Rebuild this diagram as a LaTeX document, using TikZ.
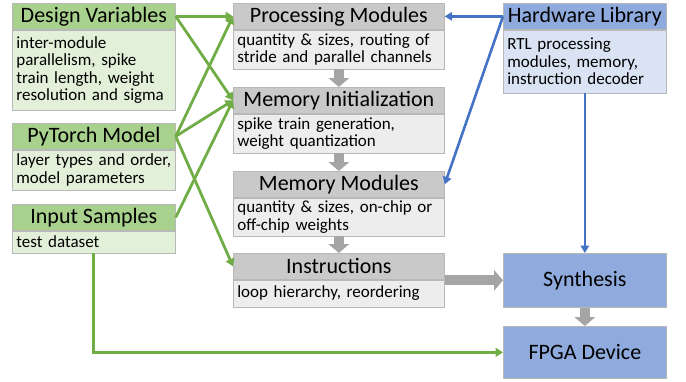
\documentclass[tikz,border=0pt]{standalone}
\usepackage{fontspec}
\setmainfont{Carlito}
\usetikzlibrary{arrows.meta,calc}

\definecolor{greenH}{HTML}{A9D18E}
\definecolor{greenB}{HTML}{E2F0D9}
\definecolor{grayH}{HTML}{C9C9C9}
\definecolor{grayB}{HTML}{EDEDED}
\definecolor{blueH}{HTML}{8FAADC}
\definecolor{blueB}{HTML}{DAE3F3}
\definecolor{edge}{HTML}{B8B8B8}
\definecolor{gline}{HTML}{70AD47}
\definecolor{bline}{HTML}{4472C4}
\definecolor{blkgray}{HTML}{A5A5A5}

\tikzset{
  hd/.style={draw=edge, line width=0.7pt, minimum height=26pt, inner sep=0pt,
    anchor=north west, font=\fontsize{22}{24}\selectfont},
  bd/.style={draw=edge, line width=0.7pt, inner xsep=4pt, inner ysep=0pt,
    anchor=north west, align=left, font=\fontsize{17}{17.5}\selectfont},
  solid box/.style={draw=edge, line width=0.7pt, fill=blueH, minimum width=163pt,
    anchor=north west, font=\fontsize{22}{24}\selectfont},
  garrow/.style={draw=gline, line width=2.8pt, -{Triangle[width=9pt,length=7.5pt]}},
  barrow/.style={draw=bline, line width=2.6pt, -{Triangle[width=8.5pt,length=7.5pt]}},
  blk/.style={draw=blkgray, line width=10pt,
    -{Triangle[width=21pt,length=9pt,line width=0pt]}},
}

\begin{document}
\begin{tikzpicture}[x=1pt,y=-1pt]
\useasboundingbox (0,0) rectangle (686,381);

% inputs (left column)
\node[hd, fill=greenH, minimum width=163pt] (dvh) at (12,3) {Design Variables};
\node[bd, fill=greenB, text width=155pt, minimum height=80pt] (dvb) at (dvh.south west)
  {inter-module\\parallelism, spike\\train length, weight\\resolution and sigma};

\node[hd, fill=greenH, minimum width=163pt] (pth) at (12,123) {PyTorch Model};
\node[bd, fill=greenB, text width=155pt, minimum height=40pt] (ptb) at (pth.south west)
  {layer types and order,\\model parameters};

\node[hd, fill=greenH, minimum width=163pt] (ish) at (12,204) {Input Samples};
\node[bd, fill=greenB, text width=155pt, minimum height=22pt] (isb) at (ish.south west)
  {test dataset};

% generation steps (middle column)
\node[hd, fill=grayH, minimum width=211pt] (pmh) at (233,3) {Processing Modules};
\node[bd, fill=grayB, text width=203pt, minimum height=39pt] (pmb) at (pmh.south west)
  {quantity \& sizes, routing of\\stride and parallel channels};

\node[hd, fill=grayH, minimum width=211pt] (mih) at (233,87) {Memory Initialization};
\node[bd, fill=grayB, text width=203pt, minimum height=39pt] (mib) at (mih.south west)
  {spike train generation,\\weight quantization};

\node[hd, fill=grayH, minimum width=211pt] (mmh) at (233,171) {Memory Modules};
\node[bd, fill=grayB, text width=203pt, minimum height=38pt] (mmb) at (mmh.south west)
  {quantity \& sizes, on-chip or\\off-chip weights};

\node[hd, fill=grayH, minimum width=211pt] (inh) at (233,253) {Instructions};
\node[bd, fill=grayB, text width=203pt, minimum height=27pt] (inb) at (inh.south west)
  {loop hierarchy, reordering};

% hardware side (right column)
\node[hd, fill=blueH, minimum width=163pt] (hlh) at (503,3) {Hardware Library};
\node[bd, fill=blueB, text width=155pt, minimum height=63pt] (hlb) at (hlh.south west)
  {RTL processing\\modules, memory,\\instruction decoder};

\node[solid box, minimum height=54pt] (sy) at (503,253) {Synthesis};
\node[solid box, minimum height=52pt] (fp) at (503,326) {FPGA Device};

% flow between steps
\draw[blk] (pmb.south) -- (mih.north);
\draw[blk] (mib.south) -- (mmh.north);
\draw[blk] (mmb.south) -- (inh.north);
\draw[blk] (sy.west -| inh.east) -- (sy.west);
\draw[blk] (sy.south) -- (fp.north);

% inputs feeding the steps
\draw[garrow] (dvh.east) -- (pmh.west);
\draw[garrow] (dvh.east) -- (mih.west);
\draw[garrow] (pth.east) -- (pmh.west);
\draw[garrow] (pth.east) -- (mih.west);
\draw[garrow] (pth.east) -- (inh.west);
\draw[garrow] (ish.east) -- (mih.west);
\draw[garrow] (isb.south) |- (fp.west);

% hardware library links
\draw[barrow] (hlh.west) -- (pmh.east);
\draw[barrow] (hlh.west) -- (mmh.east);
\draw[barrow] (hlb.south) -- (sy.north);
\end{tikzpicture}
\end{document}
